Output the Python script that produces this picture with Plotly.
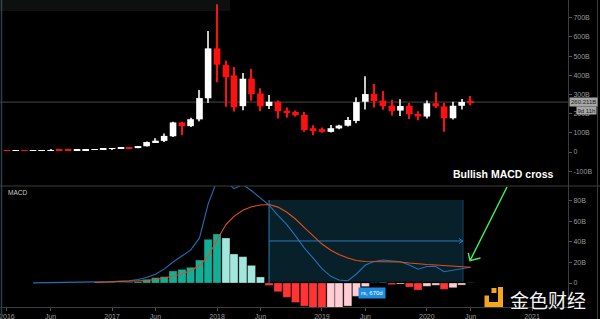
import plotly.graph_objects as go

# ---------------- data ----------------
months = [f"{y}-{m:02d}-01" for y in range(2016, 2021) for m in range(1, 13)][:54]

open_ = [7.0, 6.6, 7.2, 7.0, 7.7, 9.2, 10.5, 10.0, 9.5, 9.6, 11.0, 12.0,
         17, 18.5, 21.5, 20.5, 30, 51, 58, 82, 154, 135, 170, 280,
         540, 453, 399, 239, 382, 305, 240, 262, 215, 209, 193, 124,
         119, 105, 123, 137, 162, 262, 302, 268, 242, 216, 240, 198,
         185, 254, 238, 176, 241, 261.5]
high = [8.0, 7.5, 7.6, 7.8, 9.3, 12.5, 11.0, 10.2, 10.0, 11.2, 12.5, 17.0,
        19, 22, 26, 32, 55, 72, 96, 158, 158, 178, 323, 630,
        770, 477, 443, 412, 433, 332, 297, 268, 232, 216, 209, 140,
        128, 141, 142, 183, 285, 395, 355, 318, 272, 275, 255, 212,
        268, 312, 255, 262, 276, 292]
low = [6.0, 6.3, 6.9, 6.9, 7.5, 9.0, 9.5, 8.7, 9.3, 9.5, 10.8, 11.8,
       14, 17.5, 18, 20, 29, 48, 52, 78, 87, 130, 160, 255,
       363, 236, 211, 218, 267, 214, 224, 175, 180, 185, 105, 87,
       100, 102, 119, 133, 150, 222, 232, 220, 190, 188, 172, 165,
       175, 230, 105, 170, 222, 243]
close = [6.6, 7.2, 7.0, 7.7, 9.2, 10.5, 10.0, 9.5, 9.6, 11.0, 12.0, 17.0,
         18.5, 21.5, 20, 31, 52, 59, 84, 154, 135, 171, 281, 540,
         455, 390, 233, 382, 302, 238, 262, 213, 207, 192, 115, 114,
         105, 124, 138, 167, 260, 302, 266, 240, 214, 240, 197, 185,
         254, 238, 176, 241, 261, 260.2]

macd = [None, None, None, 0.1, 0.2, 0.4, 0.5, 0.5, 0.5, 0.6, 0.7, 1.0,
        1.3, 1.8, 2.2, 3.4, 5.4, 8.5, 13.5, 20.5, 26.3, 32, 44, 77,
        100, 99, 92, 96, 90, 83, 76, 66, 57, 46, 34, 24.4,
        14, 6.5, 3, 2.2, 8.8, 17.5, 21, 22.4, 21.8, 20.8, 17.6, 13.4,
        16.1, 16.1, 11, 12.2, 14.1, 15.3]
signal = [None] * 10 + [0.5, 0.7,
          0.9, 1.1, 1.4, 1.8, 2.4, 3.4, 4.9, 6.6, 9.0, 12, 17, 26,
          42, 57, 65, 71, 74.4, 76, 76.5, 74, 69, 62.4, 54, 46,
          38, 32, 27.8, 24.4, 22, 21, 20.8, 21, 21, 20.5, 19.5, 18.5,
          18, 17.6, 17.1, 16.6, 15.9, 15.4]
hist = [None] * 11 + [0.4,
        0.3, 0.5, 0.7, 1.4, 3.6, 5.2, 6.2, 11.7, 13.3, 15.3, 22.4, 42.6,
        47.8, 43.9, 28.3, 25.7, 17.2, 5.9, -2.4, -8.5, -14, -19, -22.5, -24.5,
        -26, -25, -24.5, -22.5, -13, -3.5, 0.4, 0.7, -1.6, -1.0, -4, -6.8,
        -3.2, -2.2, -6.2, -4.6, -2.0, 0.3]

x_tick_dates = ["2016-01-01", "2016-06-01", "2017-01-01", "2017-06-01", "2018-01-01",
                "2018-06-01", "2019-01-01", "2019-06-01", "2020-01-01", "2020-06-01",
                "2021-01-01"]
x_tick_text = ["2016", "Jun", "2017", "Jun", "2018", "Jun", "2019", "Jun", "2020", "Jun", "2021"]
y1_ticks = [-100, 0, 100, 200, 300, 400, 500, 600, 700]
y1_text = ["-100B", "0", "100B", "200B", "300B", "400B", "500B", "600B", "700B"]
y2_ticks = [0, 20, 40, 60, 80]
y2_text = ["0", "20B", "40B", "60B", "80B"]

# ---------------- styling helpers ----------------
W, H = 600, 319
ML, MR, MT, MB = 0, 32, 0, 12
PW, PH = W - ML - MR, H - MT - MB
SPLIT = 186  # pixel y of pane separator
DAY = 86400000


def px(x):
    return (x - ML) / PW


def py(y):
    return 1 - (y - MT) / PH


split_dom = py(SPLIT)

UP_BODY, UP_WICK, DOWN = "#ffffff", "#c8c8c8", "#ff1010"
is_up = [c >= o for o, c in zip(open_, close)]
body_base = [min(o, c) for o, c in zip(open_, close)]
body_len = [max(abs(c - o), 1.2) for o, c in zip(open_, close)]
wick_len = [h - l for h, l in zip(high, low)]
body_col = [UP_BODY if u else DOWN for u in is_up]
wick_col = [UP_WICK if u else DOWN for u in is_up]

DARK_TEAL, LIGHT_TEAL, RED, PINK = "#12ae98", "#a3e6dc", "#ff3535", "#ffcdd2"
hcolors = []
prev = 0
for h in hist:
    if h is None:
        hcolors.append("rgba(0,0,0,0)")
        continue
    if h >= 0:
        hcolors.append(DARK_TEAL if h >= prev else LIGHT_TEAL)
    else:
        hcolors.append(RED if h < prev else PINK)
    prev = h

fig = go.Figure()

# candles: wicks then bodies
fig.add_trace(go.Bar(x=months, y=wick_len, base=low, width=4 * DAY,
                     marker=dict(color=wick_col, line=dict(width=0)),
                     xaxis="x", yaxis="y", showlegend=False, hoverinfo="skip"))
fig.add_trace(go.Bar(x=months, y=body_len, base=body_base, width=23 * DAY,
                     marker=dict(color=body_col, line=dict(width=0)),
                     xaxis="x", yaxis="y", showlegend=False, hoverinfo="skip"))

fig.add_trace(go.Bar(
    x=months, y=hist, marker=dict(color=hcolors, line=dict(color="rgba(0,0,0,0.5)", width=0.6)),
    width=28 * DAY, xaxis="x", yaxis="y2", showlegend=False, hoverinfo="skip"))

fig.add_trace(go.Scatter(x=months, y=macd, mode="lines", line=dict(color="#2270b8", width=1.1),
                         xaxis="x", yaxis="y2", showlegend=False, hoverinfo="skip"))
fig.add_trace(go.Scatter(x=months, y=signal, mode="lines", line=dict(color="#e0501a", width=1.1),
                         xaxis="x", yaxis="y2", showlegend=False, hoverinfo="skip"))

tickfont = dict(family="Liberation Sans", size=7, color="#9a9a9a")

shapes = [
    # range tool box in MACD pane
    dict(type="rect", xref="x", yref="y2", x0="2018-07-01", x1="2020-05-06", y0=1.3, y1=81,
         fillcolor="rgba(25,105,135,0.30)", line=dict(width=0), layer="below"),
    dict(type="line", xref="x", yref="y2", x0="2018-07-01", x1="2018-07-01", y0=0, y1=81,
         line=dict(color="#2a7fc0", width=1)),
    dict(type="line", xref="x", yref="y2", x0="2020-05-06", x1="2020-05-06", y0=1.3, y1=81,
         line=dict(color="rgba(42,127,192,0.45)", width=1)),
    dict(type="line", xref="x", yref="y2", x0="2018-07-01", x1="2020-05-06", y0=41, y1=41,
         line=dict(color="#2a7ab8", width=1)),
    dict(type="path", xref="paper", yref="paper",
         path=f"M {px(459)},{py(238.5)} L {px(463)},{py(241)} L {px(459)},{py(243.5)}",
         line=dict(color="#2a7ab8", width=1)),
    # current price line
    dict(type="line", xref="paper", yref="y", x0=0, x1=1, y0=close[-1], y1=close[-1],
         line=dict(color="rgba(130,130,130,0.55)", width=1), layer="below"),
    # pane separator
    dict(type="line", xref="paper", yref="paper", x0=0, x1=px(600), y0=split_dom, y1=split_dom,
         line=dict(color="#3c3c3c", width=1)),
    # right outer border
    dict(type="line", xref="paper", yref="paper", x0=px(597.5), x1=px(597.5), y0=py(319), y1=1,
         line=dict(color="#3c3c3c", width=1)),
    # left border
    dict(type="line", xref="paper", yref="paper", x0=px(1.5), x1=px(1.5), y0=py(319), y1=1,
         line=dict(color="#2f3e48", width=1.5)),
    # blurred top band
    dict(type="rect", xref="paper", yref="paper", x0=px(0), x1=px(230), y0=py(11), y1=1,
         fillcolor="rgba(95,105,105,0.15)", line=dict(width=0)),
    # green arrow
    dict(type="path", xref="paper", yref="paper",
         path=(f"M {px(507)},{py(187)} L {px(470)},{py(260.7)} "
               f"M {px(468.3)},{py(253)} L {px(470)},{py(260.7)} L {px(480.5)},{py(258)}"),
         line=dict(color="#3cf55a", width=1.4)),
    # logo
    dict(type="rect", xref="paper", yref="paper", x0=px(491.5), x1=px(496.5), y0=py(293), y1=py(288),
         fillcolor="#f5a51e", line=dict(width=0)),
    dict(type="path", xref="paper", yref="paper",
         path=(f"M {px(498)},{py(287)} L {px(503)},{py(287)} L {px(503)},{py(307)} "
               f"L {px(484.5)},{py(307)} L {px(484.5)},{py(295.5)} L {px(489)},{py(295.5)} "
               f"L {px(489)},{py(302)} L {px(498)},{py(302)} Z"),
         fillcolor="#f5a51e", line=dict(width=0)),
]

annotations = [
    dict(text="MACD", xref="paper", yref="paper", x=px(6), y=py(193), xanchor="left", yanchor="middle",
         showarrow=False, font=dict(family="Liberation Sans", size=6.5, color="#c8c8c8")),
    dict(text="<b>Bullish MACD cross</b>", xref="paper", yref="paper", x=px(503), y=py(173.5),
         xanchor="center", yanchor="middle", showarrow=False,
         font=dict(family="Liberation Sans", size=10.5, color="#ffffff")),
    dict(text="260.211B", xref="paper", yref="paper", x=px(583), y=py(102), xanchor="center",
         yanchor="middle", showarrow=False, bgcolor="#a6a6a6", borderpad=1,
         font=dict(family="Liberation Sans", size=6, color="#222222")),
    dict(text="9d 11h", xref="paper", yref="paper", x=px(586.5), y=py(111), xanchor="center",
         yanchor="middle", showarrow=False, bgcolor="#a6a6a6", borderpad=0.5,
         font=dict(family="Liberation Sans", size=6, color="#222222")),
    dict(text="rs, 670d", xref="paper", yref="paper", x=px(371.5), y=py(292.5), xanchor="center",
         yanchor="middle", showarrow=False, bgcolor="#1e8de0", borderpad=2,
         font=dict(family="Liberation Sans", size=6, color="#ffffff")),
    dict(text="金色财经", xref="paper", yref="paper", x=px(548), y=py(299), xanchor="center",
         yanchor="middle", showarrow=False,
         font=dict(family="Noto Sans CJK SC", size=19, color="#f4f4f4")),
]

fig.update_layout(
    width=W, height=H, margin=dict(l=ML, r=MR, t=MT, b=MB),
    paper_bgcolor="#000000", plot_bgcolor="#000000",
    barmode="overlay", showlegend=False,
    xaxis=dict(type="date", range=["2015-12-08", "2021-05-06"], anchor="y2",
               tickvals=x_tick_dates, ticktext=x_tick_text, tickfont=tickfont,
               ticks="outside", ticklen=3, tickcolor="#555555", ticklabeloverflow="allow",
               showgrid=False, zeroline=False, showline=True, linecolor="#3c3c3c"),
    yaxis=dict(domain=[split_dom, 1], range=[-177, 792], side="right", anchor="x",
               tickvals=y1_ticks, ticktext=y1_text, tickfont=tickfont,
               ticks="outside", ticklen=3, tickcolor="#555555",
               showgrid=False, zeroline=False, showline=True, linecolor="#3c3c3c"),
    yaxis2=dict(domain=[0, split_dom], range=[-23.4, 94.6], side="right", anchor="x",
                tickvals=y2_ticks, ticktext=y2_text, tickfont=tickfont,
                ticks="outside", ticklen=3, tickcolor="#555555",
                showgrid=False, zeroline=False, showline=True, linecolor="#3c3c3c"),
    shapes=shapes, annotations=annotations,
)

fig.write_html("out.html")
